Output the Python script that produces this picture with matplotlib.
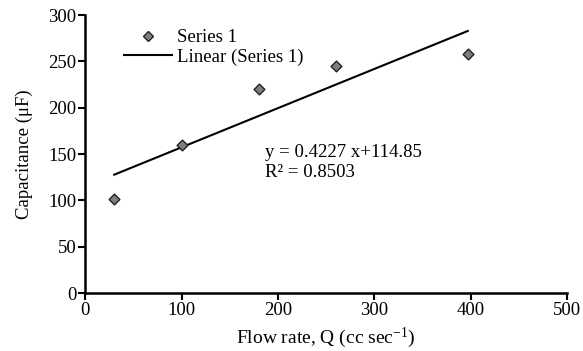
import numpy as np
import matplotlib
matplotlib.use("Agg")
import matplotlib.pyplot as plt
from matplotlib.lines import Line2D

# data
flow = [30, 100, 180, 260, 397]
capacitance = [101, 160, 220, 245, 258]
xticks = [0, 100, 200, 300, 400, 500]
yticks = [0, 50, 100, 150, 200, 250, 300]

plt.rcParams["font.family"] = ["Liberation Serif", "DejaVu Serif"]
plt.rcParams["mathtext.fontset"] = "custom"
plt.rcParams["mathtext.rm"] = "Liberation Serif"
plt.rcParams["mathtext.it"] = "Liberation Serif:italic"

fs = 13.5
fig = plt.figure(figsize=(5.83, 3.51), dpi=100)
ax = fig.add_axes([0.1463, 0.1652, 0.8263, 0.7918])

# linear trendline (least squares)
slope, icpt = np.polyfit(flow, capacitance, 1)
xl = np.array([min(flow), max(flow)])
ax.plot(xl, slope * xl + icpt, color="black", lw=1.5, zorder=2)

ax.scatter(flow, capacitance, marker="D", s=30, facecolor="#7f7f7f",
           edgecolor="#222222", linewidth=1.0, zorder=3)

ax.set_xlim(0, 500)
ax.set_ylim(0, 300)
ax.set_xticks(xticks)
ax.set_yticks(yticks)
ax.spines["top"].set_visible(False)
ax.spines["right"].set_visible(False)
for s in ["left", "bottom"]:
    ax.spines[s].set_linewidth(1.8)
ax.tick_params(direction="out", length=5, width=1.5, labelsize=fs, pad=1.5)

ax.set_xlabel("Flow rate, Q (cc sec$^{\\mathrm{-1}}$)", fontsize=fs + 0.5, labelpad=5)
ax.set_ylabel("Capacitance (\u03bcF)", fontsize=fs)
ax.yaxis.set_label_coords(-0.109, 0.5)

fig.text(265 / 583, 1 - 162.5 / 351, "y = 0.4227 x+114.85\nR\u00b2 = 0.8503",
         fontsize=fs, va="center", ha="left", linespacing=1.2)

handles = [
    Line2D([], [], marker="D", ls="none", markersize=5.5, markerfacecolor="#7f7f7f",
           markeredgecolor="#222222", markeredgewidth=1.0),
    Line2D([], [], color="black", lw=1.5),
]
fig.legend(handles, ["Series 1", "Linear (Series 1)"], loc="upper left",
           bbox_to_anchor=(124 / 583, 1 - 29 / 351), frameon=False, fontsize=fs,
           handlelength=2.55, handletextpad=0.27, labelspacing=0.12,
           borderpad=0.0, borderaxespad=0.0)

fig.savefig("out.png", dpi=100)
